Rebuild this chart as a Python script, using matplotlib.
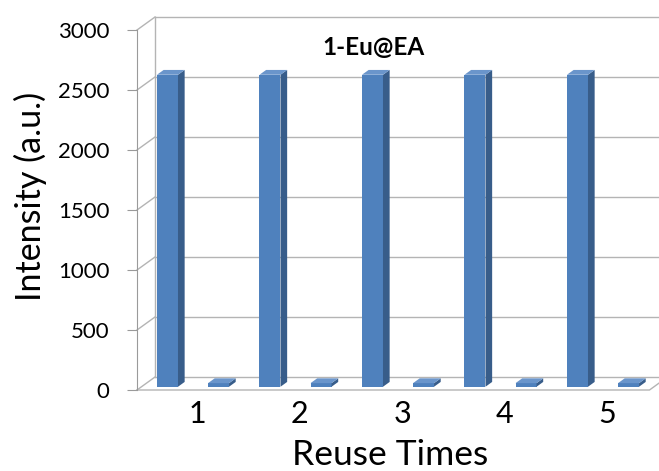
import numpy as np
import matplotlib.pyplot as plt
from matplotlib.patches import Polygon

# intensity after each reuse cycle: before quenching / after quenching
reuse = ["1", "2", "3", "4", "5"]
before = [2600, 2600, 2600, 2600, 2600]
after = [30, 30, 30, 30, 30]
yticks = [0, 500, 1000, 1500, 2000, 2500, 3000]

FONT = "Lato"
front_c = "#4F81BD"
side_c = "#385D8A"
top_c = "#6A95CB"
grid_c = "#B4B4B4"

# depth of the 3d box in data units (x: categories, y: intensity)
DX = 18 / 102.5
DY = 13 / 0.12
d0, d1 = 0.25, 0.62   # bar depth range as fraction of box depth
bw = 0.205

fig = plt.figure(figsize=(6.59, 4.71), dpi=100)
ax = fig.add_axes([137 / 659, 81 / 471, 522 / 659, 360 / 471])
ax.set_xlim(0, 522 / 102.5)
ax.set_ylim(0, 3000)
n = len(reuse)

# back wall gridlines and the diagonals joining them to the front axis
for v in yticks:
    ax.plot([DX, n + DX], [v + DY, v + DY], color=grid_c, lw=1, clip_on=False, zorder=1)
    ax.plot([0, DX], [v, v + DY], color=grid_c, lw=1, clip_on=False, zorder=1)
ax.plot([DX, DX], [DY, 3000 + DY], color=grid_c, lw=1, clip_on=False, zorder=1)
# floor edges
ax.plot([0, n, n + DX], [0, 0, DY], color=grid_c, lw=1, clip_on=False, zorder=1)


def bar3d(x0, val):
    xf = x0 + d0 * DX
    yf = d0 * DY
    ddx = (d1 - d0) * DX
    ddy = (d1 - d0) * DY
    ax.bar(xf, val, bw, bottom=yf, align="edge", color=front_c, lw=0, zorder=3, clip_on=False)
    side = [(xf + bw, yf), (xf + bw + ddx, yf + ddy),
            (xf + bw + ddx, yf + ddy + val), (xf + bw, yf + val)]
    top = [(xf, yf + val), (xf + bw, yf + val),
           (xf + bw + ddx, yf + ddy + val), (xf + ddx, yf + ddy + val)]
    ax.add_patch(Polygon(side, closed=True, fc=side_c, lw=0, zorder=3, clip_on=False))
    ax.add_patch(Polygon(top, closed=True, fc=top_c, lw=0, zorder=3, clip_on=False))


for i in range(n):
    bar3d(i + 0.151, before[i])
    bar3d(i + 0.649, after[i])

for s in ["top", "right", "bottom"]:
    ax.spines[s].set_visible(False)
ax.spines["left"].set_color("#9A9A9A")
ax.set_yticks(yticks)
ax.set_yticklabels([str(v) for v in yticks], fontsize=16, family=FONT)
ax.tick_params(axis="y", length=7, color="#9A9A9A", pad=13)
ax.set_xticks(np.arange(n) + 0.5 + 0.5 * DX)
ax.set_xticklabels(reuse, fontsize=22, family=FONT)
ax.tick_params(axis="x", length=0, pad=7)
ax.patch.set_alpha(0)

fig.text(374 / 659, 1 - 47 / 471, "1-Eu@EA", ha="center", va="center",
         fontsize=17.5, fontweight="bold", family=FONT)
fig.text(390 / 659, 1 - 455 / 471, "Reuse Times", ha="center", va="center",
         fontsize=25.5, family=FONT)
fig.text(30 / 659, 1 - 196 / 471, "Intensity (a.u.)", ha="center", va="center",
         rotation=90, fontsize=24.5, family=FONT)

fig.savefig("out.png", dpi=100)
